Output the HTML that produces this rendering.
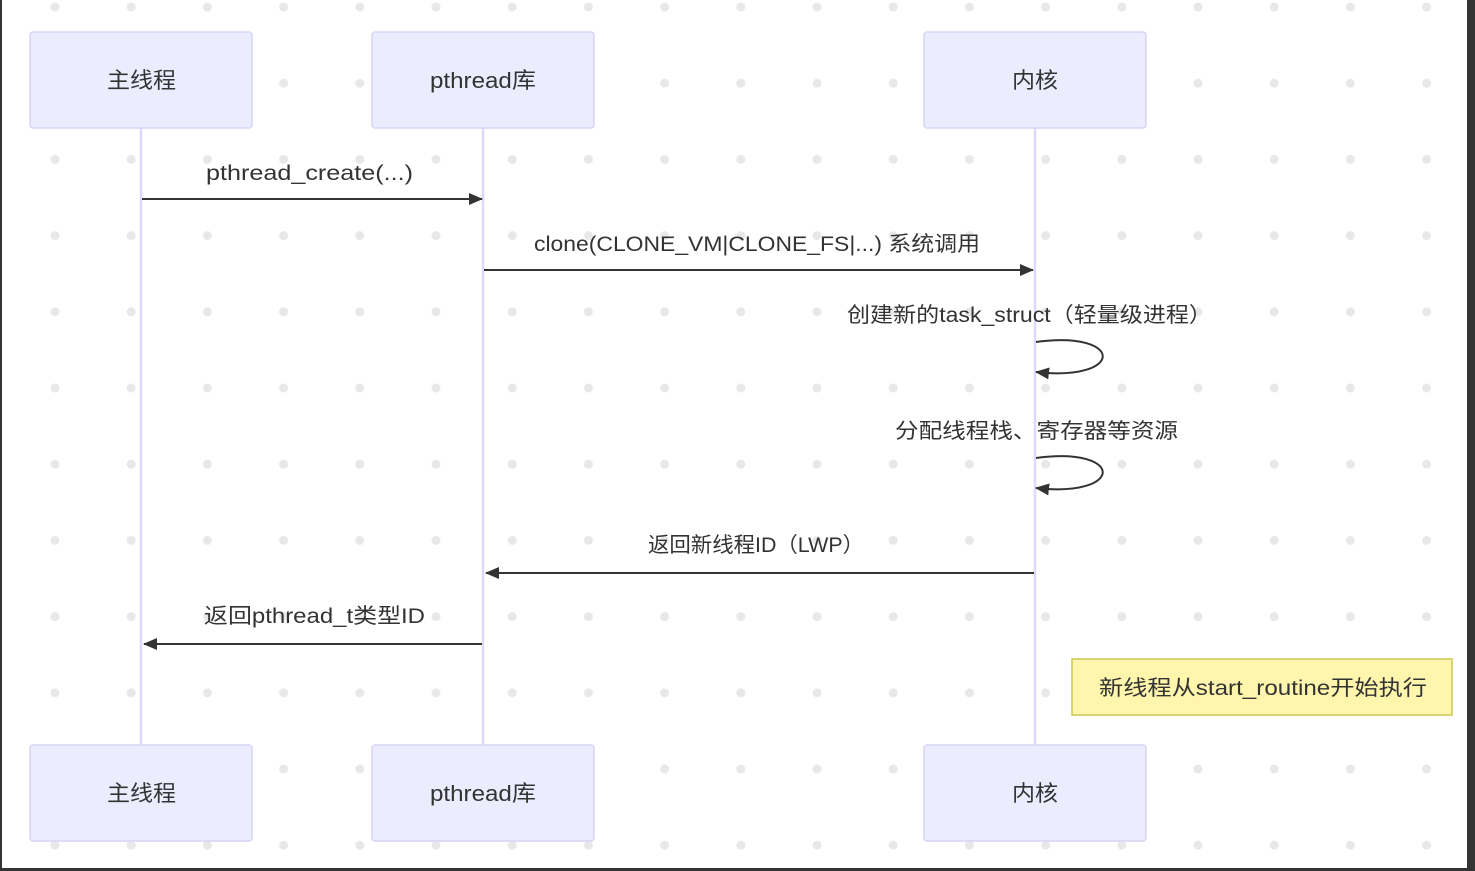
<!DOCTYPE html>
<html><head><meta charset="utf-8"><style>
html,body{margin:0;padding:0;background:#fff;}
svg{display:block;}
text{font-family:"Liberation Sans","Noto Sans CJK SC",sans-serif;fill:#333;}
</style></head><body>
<svg width="1475" height="871" viewBox="0 0 1475 871" xmlns="http://www.w3.org/2000/svg">
<defs>
<pattern id="dots" x="17" y="-31" width="76.2" height="76.2" patternUnits="userSpaceOnUse">
<circle cx="38" cy="38" r="4.5" fill="#e8e8e8"/>
</pattern>
<marker id="ah" markerWidth="14" markerHeight="14" refX="13" refY="7" orient="auto" markerUnits="userSpaceOnUse">
<path d="M0,1 L14,7 L0,13 z" fill="#333"/>
</marker>
</defs>
<rect width="1475" height="871" fill="#fff"/>
<rect width="1475" height="871" fill="url(#dots)"/>
<rect x="0" y="0" width="2" height="871" fill="#333"/>
<rect x="1467" y="0" width="8" height="871" fill="#333"/>
<rect x="0" y="868" width="1475" height="3" fill="#333"/>

<line x1="141" y1="128" x2="141" y2="745" stroke="#e0d8f8" stroke-width="2.5"/>
<line x1="483" y1="128" x2="483" y2="745" stroke="#e0d8f8" stroke-width="2.5"/>
<line x1="1035" y1="128" x2="1035" y2="745" stroke="#e0d8f8" stroke-width="2.5"/>

<g fill="#ececff" stroke="#d8d4f6" stroke-width="1.5">
<rect x="30" y="32" width="222" height="96" rx="3"/>
<rect x="372" y="32" width="222" height="96" rx="3"/>
<rect x="924" y="32" width="222" height="96" rx="3"/>
<rect x="30" y="745" width="222" height="96" rx="3"/>
<rect x="372" y="745" width="222" height="96" rx="3"/>
<rect x="924" y="745" width="222" height="96" rx="3"/>
</g>
<g font-size="22" lengthAdjust="spacingAndGlyphs">
<text x="107" y="88" textLength="69" lengthAdjust="spacingAndGlyphs">主线程</text>
<text x="430" y="88" textLength="106" lengthAdjust="spacingAndGlyphs">pthread库</text>
<text x="1012" y="88" textLength="46" lengthAdjust="spacingAndGlyphs">内核</text>
<text x="107" y="801" textLength="69" lengthAdjust="spacingAndGlyphs">主线程</text>
<text x="430" y="801" textLength="106" lengthAdjust="spacingAndGlyphs">pthread库</text>
<text x="1012" y="801" textLength="46" lengthAdjust="spacingAndGlyphs">内核</text>
</g>

<g stroke="#333" stroke-width="2" fill="none">
<line x1="142" y1="199" x2="482" y2="199" marker-end="url(#ah)"/>
<line x1="484" y1="270" x2="1033" y2="270" marker-end="url(#ah)"/>
<path d="M1036,342 C1125,330 1125,382 1036,372" marker-end="url(#ah)"/>
<path d="M1036,458 C1125,446 1125,498 1036,488" marker-end="url(#ah)"/>
<line x1="1034" y1="573" x2="486" y2="573" marker-end="url(#ah)"/>
<line x1="482" y1="644" x2="144" y2="644" marker-end="url(#ah)"/>
</g>
<g font-size="21">
<text x="206" y="180" textLength="207" lengthAdjust="spacingAndGlyphs">pthread_create(...)</text>
<text x="534" y="251" textLength="446" lengthAdjust="spacingAndGlyphs">clone(CLONE_VM|CLONE_FS|...) 系统调用</text>
<text x="847" y="322" textLength="365" lengthAdjust="spacingAndGlyphs">创建新的task_struct（轻量级进程）</text>
<text x="895" y="438" textLength="283" lengthAdjust="spacingAndGlyphs">分配线程栈、寄存器等资源</text>
<text x="648" y="552" textLength="216" lengthAdjust="spacingAndGlyphs">返回新线程ID（LWP）</text>
<text x="204" y="623" textLength="221" lengthAdjust="spacingAndGlyphs">返回pthread_t类型ID</text>
</g>

<rect x="1072" y="659" width="380" height="56" fill="#fff5ad" stroke="#c8c850" stroke-width="1.5"/>
<text x="1099" y="695" font-size="21" textLength="328" lengthAdjust="spacingAndGlyphs">新线程从start_routine开始执行</text>
</svg>
</body></html>
